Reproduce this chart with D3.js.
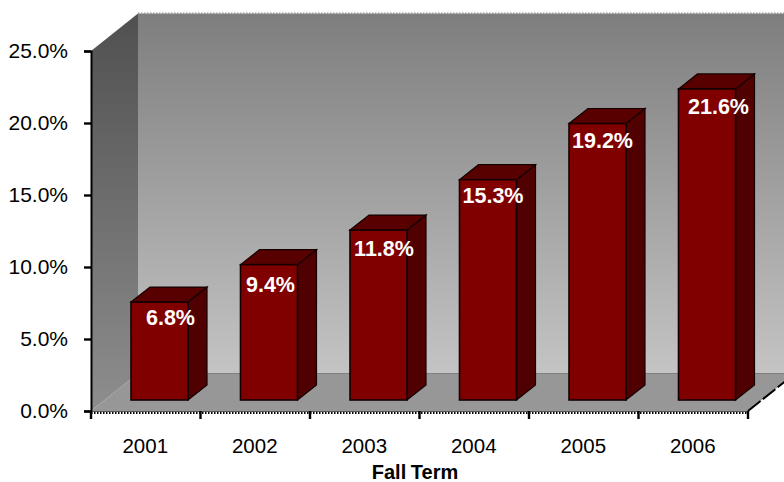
<!DOCTYPE html>
<html><head><meta charset="utf-8">
<script src="https://cdn.jsdelivr.net/npm/d3@7"></script>
<style>html,body{margin:0;padding:0;background:#fff}svg{display:block}text{font-family:"Liberation Sans",Arial,sans-serif}</style>
</head><body><svg id="c" width="784" height="482"></svg>
<script>
const categories=["2001","2002","2003","2004","2005","2006"];
const values=[6.8,9.4,11.8,15.3,19.2,21.6];
const yTicks=[0,5,10,15,20,25];
const axisTitle="Fall Term";
const labelNudgeX=[11,1.5,5.5,5,5,11.5];
const labelNudgeY=[22.5,27.5,25.5,23,24,25.5];

const svg=d3.select("#c");
const x=d3.scaleBand().domain(categories).range([91,748]).paddingInner(0).paddingOuter(0);
const y=d3.scaleLinear().domain([0,25]).range([411,51]);
const wallDx=47,wallDy=37.5,barDx=19,barDy=15,barW=57,barInset=40,barLift=11;
const defs=svg.append("defs");
function grad(id,stops){const g=defs.append("linearGradient").attr("id",id).attr("x1",0).attr("y1",0).attr("x2",0).attr("y2",1);
 stops.forEach(s=>g.append("stop").attr("offset",s[0]).attr("stop-color",s[1]));}
grad("back",[[0,"#7e7e7e"],[1,"#c4c4c4"]]);
grad("side",[[0,"#505050"],[1,"#8e8e8e"]]);
const line=d3.line();
const x0=x.range()[0],x1=x.range()[1],yb=y(0),yt=y(25);
// walls
svg.append("path").attr("d",line([[x0+wallDx,yt-wallDy],[x1+wallDx,yt-wallDy],[x1+wallDx,yb-wallDy],[x0+wallDx,yb-wallDy]])+"Z").attr("fill","url(#back)");
svg.append("path").attr("d",line([[x0,yt],[x0+wallDx,yt-wallDy],[x0+wallDx,yb-wallDy],[x0,yb]])+"Z").attr("fill","url(#side)");
// floor
svg.append("path").attr("d",line([[x0,yb],[x0+wallDx,yb-wallDy],[x1+wallDx,yb-wallDy],[x1,yb]])+"Z").attr("fill","#979797");
svg.append("line").attr("x1",x0+wallDx).attr("x2",x1+wallDx).attr("y1",yb-wallDy).attr("y2",yb-wallDy).attr("stroke","#808080");
svg.append("line").attr("x1",x0+wallDx).attr("x2",x1+wallDx).attr("y1",yt-wallDy-.5).attr("y2",yt-wallDy-.5).attr("stroke","#8a8a8a").attr("stroke-dasharray","1.5 1.5");
// bars
const bars=svg.append("g").selectAll("g").data(categories).join("g");
const bx=d=>x(d)+barInset;
const barTop=(d,i)=>y(values[i])-barLift;
const base=yb-barLift;
bars.append("path").attr("fill","#500000").attr("stroke","#140000").attr("stroke-width",1.2)
 .attr("d",(d,i)=>line([[bx(d)+barW,barTop(d,i)],[bx(d)+barW+barDx,barTop(d,i)-barDy],[bx(d)+barW+barDx,base-barDy],[bx(d)+barW,base]])+"Z");
bars.append("path").attr("fill","#580000").attr("stroke","#140000").attr("stroke-width",1.2)
 .attr("d",(d,i)=>line([[bx(d),barTop(d,i)],[bx(d)+barDx,barTop(d,i)-barDy],[bx(d)+barW+barDx,barTop(d,i)-barDy],[bx(d)+barW,barTop(d,i)]])+"Z");
bars.append("rect").attr("x",bx).attr("y",barTop).attr("width",barW).attr("height",(d,i)=>base-barTop(d,i))
 .attr("fill","#800000").attr("stroke","#140000").attr("stroke-width",1.6);
bars.append("text").attr("x",(d,i)=>bx(d)+barW/2+labelNudgeX[i]).attr("y",(d,i)=>barTop(d,i)+labelNudgeY[i]).attr("text-anchor","middle")
 .attr("fill","#fff").attr("font-size",21.5).attr("font-weight","bold").text((d,i)=>values[i].toFixed(1)+"%");
// y axis
const yAxis=d3.axisLeft(y).tickValues(yTicks).tickSize(7).tickPadding(5).tickFormat(d=>d.toFixed(1)+"%");
const gy=svg.append("g").attr("transform","translate(91,0)").call(yAxis);
gy.select(".domain").attr("stroke","#000").attr("stroke-width",2);
gy.selectAll(".tick line").attr("stroke","#000").attr("stroke-width",2.4);
gy.selectAll("text").attr("font-size",21).attr("fill","#000").attr("font-family",'"Liberation Sans",Arial,sans-serif').attr("dx",-11);
// x axis
svg.append("line").attr("x1",x0).attr("x2",x1).attr("y1",yb+.5).attr("y2",yb+.5).attr("stroke","#555").attr("stroke-width",1);
svg.append("line").attr("x1",x0).attr("x2",x1).attr("y1",yb+2).attr("y2",yb+2).attr("stroke","#000").attr("stroke-width",2).attr("stroke-dasharray","1.5 1.5");
const bounds=[...categories.map(c=>x(c)),x1];
svg.append("g").selectAll("line").data(bounds).join("line").attr("x1",d=>d).attr("x2",d=>d).attr("y1",yb).attr("y2",yb+8).attr("stroke","#000").attr("stroke-width",2.4);
svg.append("g").selectAll("text").data(categories).join("text").attr("x",d=>x(d)+x.bandwidth()/2-.5).attr("y",yb+41.5).attr("text-anchor","middle").attr("font-size",20.5).attr("fill","#000").text(d=>d);
svg.append("line").attr("x1",x1).attr("y1",yb).attr("x2",x1+wallDx).attr("y2",yb-wallDy).attr("stroke","#000").attr("stroke-width",2).attr("stroke-dasharray","16 3");
svg.append("text").attr("x",415).attr("y",478.5).attr("text-anchor","middle").attr("font-size",20).attr("font-weight","bold").attr("word-spacing",-1).attr("fill","#000").text(axisTitle);
</script></body></html>
